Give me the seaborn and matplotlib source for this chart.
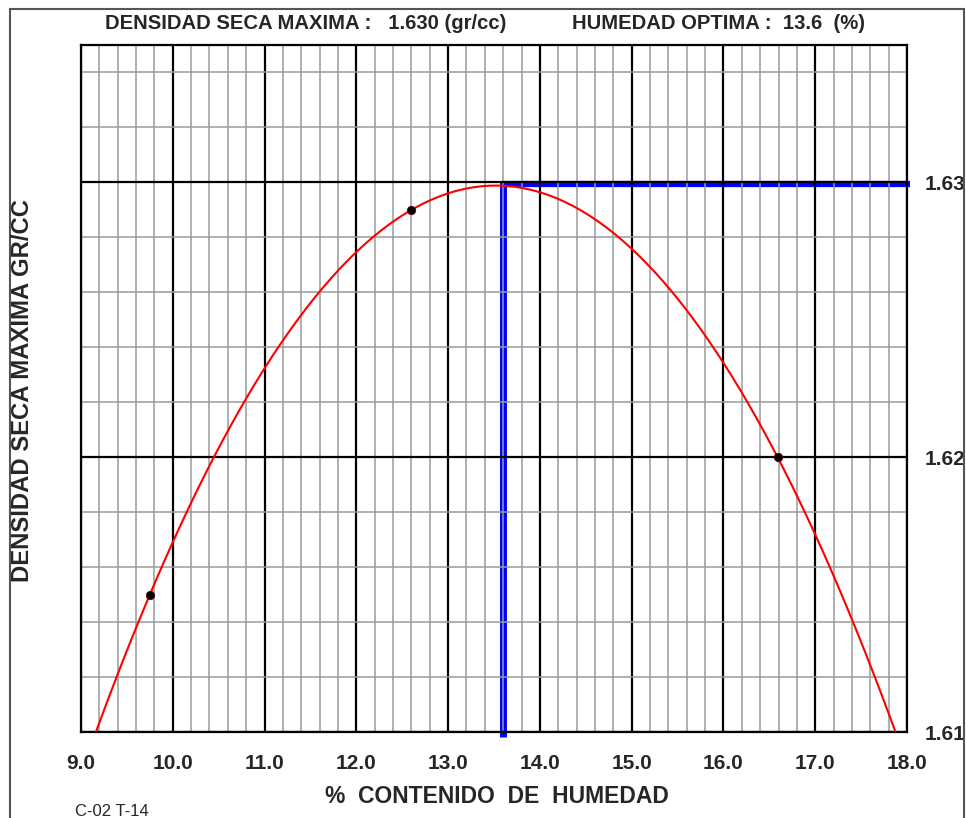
import numpy as np
import pandas as pd
import seaborn as sns
import matplotlib
matplotlib.use("Agg")
import matplotlib.pyplot as plt
from matplotlib.patches import Rectangle
from matplotlib.ticker import MultipleLocator, FormatStrFormatter
import matplotlib.transforms as mtransforms

# Proctor test readings: moisture content (%) vs dry density (gr/cc)
humedad = [9.75, 12.6, 16.59]
densidad = [1.6150, 1.6290, 1.6200]

# Results of the compaction curve
dens_max = 1.630
hum_opt = 13.6

x_ticks = [9.0, 10.0, 11.0, 12.0, 13.0, 14.0, 15.0, 16.0, 17.0, 18.0]
y_ticks = [1.61, 1.62, 1.63]

df = pd.DataFrame({"humedad": humedad, "densidad": densidad})

sns.set_style("white")
plt.rcParams["font.family"] = ["Liberation Sans", "DejaVu Sans"]

W, H = 966, 818
fig = plt.figure(figsize=(W / 100, H / 100), dpi=100)
L, R, T, B = 81, 907, 45, 732
ax = fig.add_axes([L / W, 1 - B / H, (R - L) / W, (B - T) / H])

ax.set_xlim(9.0, 18.0)
ax.set_ylim(1.61, 1.635)

# grid: black majors, grey minors
ax.set_xticks(x_ticks)
ax.set_yticks(y_ticks)
ax.xaxis.set_minor_locator(MultipleLocator(0.2))
ax.yaxis.set_minor_locator(MultipleLocator(0.002))
ax.set_axisbelow(True)
ax.grid(which="major", color="black", linewidth=1.6)
ax.grid(which="minor", color="#9a9a9a", linewidth=1.1)
ax.xaxis.set_major_formatter(FormatStrFormatter("%.1f"))
ax.yaxis.set_major_formatter(FormatStrFormatter("%.2f"))
ax.yaxis.tick_right()
ax.tick_params(which="both", length=0)
ax.tick_params(axis="x", pad=16, labelsize=15)
ax.tick_params(axis="y", pad=13, labelsize=15)
for lab in ax.get_xticklabels() + ax.get_yticklabels():
    lab.set_fontweight("bold")
for sp in ax.spines.values():
    sp.set_color("black")
    sp.set_linewidth(1.6)
    sp.set_visible(True)

# optimum markers (blue), drawn under the grid
shift = mtransforms.offset_copy(ax.transData, fig=fig, x=0, y=-2, units="dots")
ax.plot([hum_opt, hum_opt], [1.6098, dens_max], color="#0000ff", linewidth=5,
        solid_capstyle="butt", clip_on=False, zorder=0.3)
ax.plot([hum_opt, 18.03], [dens_max, dens_max], color="#0000ff", linewidth=4.5,
        solid_capstyle="butt", clip_on=False, zorder=0.3, transform=shift)

# second order compaction curve across the full axis width
sns.regplot(data=df, x="humedad", y="densidad", order=2, ci=None, truncate=False,
            scatter=False, ax=ax, line_kws=dict(color="#ff0000", linewidth=1.5, zorder=3))
sns.scatterplot(data=df, x="humedad", y="densidad", ax=ax, color="black",
                s=36, edgecolor="#5a0000", linewidth=0.6, zorder=4)
ax.set_xlabel("")
ax.set_ylabel("")

def px(x, y):
    return x / W, 1 - y / H

fig.text(*px(105, 29.3), "DENSIDAD SECA MAXIMA :   1.630 (gr/cc)", ha="left",
         va="baseline", fontsize=14.6, fontweight="bold")
fig.text(*px(572, 29.3), "HUMEDAD OPTIMA :  13.6  (%)", ha="left",
         va="baseline", fontsize=14.6, fontweight="bold")
fig.text(*px(23, 390), "DENSIDAD SECA MAXIMA GR/CC", rotation=90, ha="center",
         va="center", fontsize=17.2, fontweight="bold")
fig.text(*px(497, 803), "%  CONTENIDO  DE  HUMEDAD", ha="center", va="baseline",
         fontsize=16.5, fontweight="bold")
fig.text(*px(75, 816), "C-02 T-14", ha="left", va="baseline", fontsize=12)

# page frame
fig.add_artist(Rectangle((9.5 / W, -0.02), (964 - 9.5) / W, (H - 8.5) / H + 0.02,
                         transform=fig.transFigure, fill=False,
                         edgecolor="#555555", linewidth=1.5))

fig.savefig("out.png", dpi=100)
